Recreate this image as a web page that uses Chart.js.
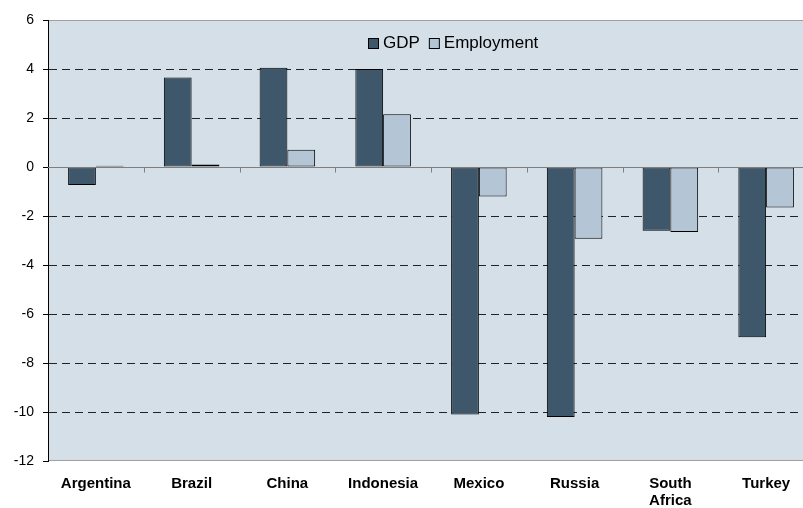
<!DOCTYPE html>
<html>
<head>
<meta charset="utf-8">
<script src="https://cdn.jsdelivr.net/npm/chart.js@4"></script>
<style>
html,body{margin:0;padding:0;background:#fff;overflow:hidden;}
#wrap{width:816px;height:508px;position:relative;}
</style>
</head>
<body>
<div id="wrap"><canvas id="c"></canvas></div>
<script>
const categories = ['Argentina','Brazil','China','Indonesia','Mexico','Russia',['South','Africa'],'Turkey'];
const gdp = [-0.73, 3.65, 4.05, 4.0, -10.1, -10.2, -2.6, -6.95];
const employment = [0.05, 0.1, 0.7, 2.15, -1.2, -2.93, -2.65, -1.65];
const yTicks = [6,4,2,0,-2,-4,-6,-8,-10,-12];

const plotBg = {
  id:'plotBg',
  beforeDraw(chart){
    const {ctx, chartArea:a} = chart;
    ctx.save();
    ctx.fillStyle = '#d5dfe8';
    ctx.fillRect(a.left, a.top, a.right-a.left, a.bottom-a.top);
    ctx.strokeStyle = '#a0a0a0';
    ctx.lineWidth = 1;
    ctx.beginPath();
    ctx.moveTo(a.left, a.top+0.5); ctx.lineTo(a.right, a.top+0.5);
    ctx.moveTo(a.left, a.bottom-0.5); ctx.lineTo(a.right, a.bottom-0.5);
    ctx.stroke();
    ctx.restore();
  },
  afterDatasetsDraw(chart){
    const {ctx, chartArea:a, scales} = chart;
    const y0 = Math.round(scales.y.getPixelForValue(0))+0.5;
    ctx.save();
    ctx.strokeStyle = '#7f7f7f';
    ctx.lineWidth = 1;
    ctx.beginPath();
    ctx.moveTo(a.left, y0); ctx.lineTo(a.right, y0);
    const n = categories.length;
    for(let i=1;i<n;i++){
      const x = Math.round((scales.x.getPixelForValue(i-1)+scales.x.getPixelForValue(i))/2)+0.5;
      ctx.moveTo(x, y0); ctx.lineTo(x, y0+5);
    }
    ctx.stroke();
    // legend
    ctx.font = '17px Arial, "Liberation Sans", sans-serif';
    ctx.textBaseline = 'middle';
    let x = 368; const y = 43;
    chart.data.datasets.forEach(ds=>{
      ctx.fillStyle = ds.backgroundColor;
      ctx.fillRect(x+0.5, y-5+0.5, 10, 10);
      ctx.strokeStyle = '#000';
      ctx.strokeRect(x+0.5, y-5+0.5, 10, 10);
      ctx.fillStyle = '#000';
      ctx.fillText(ds.label, x+15, y);
      x += 15 + ctx.measureText(ds.label).width + 9;
    });
    ctx.restore();
  }
};

new Chart(document.getElementById('c'), {
  type:'bar',
  data:{
    labels: categories,
    datasets:[
      {label:'GDP', data:gdp, backgroundColor:'#3e576b', borderColor:'#000', borderWidth:1, borderSkipped:false},
      {label:'Employment', data:employment, backgroundColor:'#b4c6d6', borderColor:'#000', borderWidth:1, borderSkipped:false}
    ]
  },
  options:{
    responsive:true,
    maintainAspectRatio:false,
    animation:false,
    layout:{padding:{top:20,right:2,left:0,bottom:0}},
    plugins:{legend:{display:false}, tooltip:{enabled:false}},
    datasets:{bar:{categoryPercentage:0.58, barPercentage:1.0}},
    scales:{
      x:{
        grid:{display:false, drawTicks:false},
        border:{display:false},
        ticks:{
          color:'#000',
          padding:14,
          maxRotation:0, autoSkip:false,
          font:{family:'Arial, "Liberation Sans", sans-serif', size:15, weight:'bold', lineHeight:1.13}
        },
        afterFit(s){ s.height = 47; }
      },
      y:{
        min:-12, max:6,
        afterBuildTicks(s){ s.ticks = yTicks.map(v=>({value:v})); },
        grid:{
          color(ctx){ const v = ctx.tick && ctx.tick.value; return (v===0||v===6||v===-12)?'rgba(0,0,0,0)':'#222'; },
          tickColor:'#000',
          tickLength:5,
          tickBorderDash:[],
          lineWidth:1
        },
        border:{display:true, color:'#000', width:1, dash:[8,5]},
        ticks:{
          color:'#000',
          padding:9,
          font:{family:'Arial, "Liberation Sans", sans-serif', size:14}
        },
        afterFit(s){ s.width = 48; }
      }
    }
  },
  plugins:[plotBg]
});
</script>
</body>
</html>
